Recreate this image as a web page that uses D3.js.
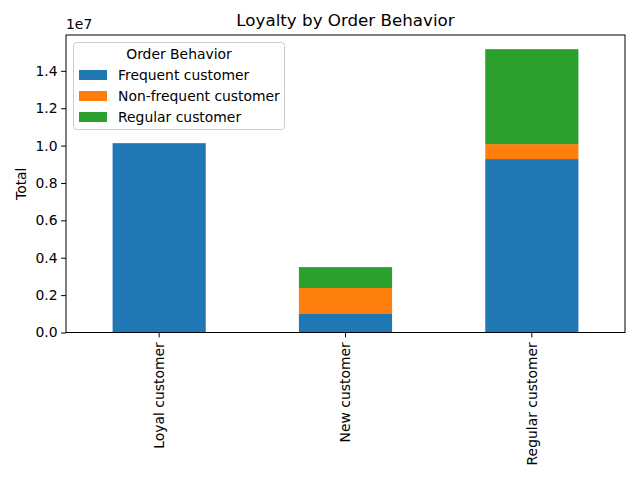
<!DOCTYPE html>
<html><head><meta charset="utf-8">
<script src="https://cdn.jsdelivr.net/npm/d3@7"></script>
<style>body{margin:0;background:#fff}text{font-family:"DejaVu Sans",sans-serif;fill:#000}</style>
</head><body>
<svg id="c" width="640" height="480"></svg>
<script>
const categories = ["Loyal customer", "New customer", "Regular customer"];
const seriesNames = ["Frequent customer", "Non-frequent customer", "Regular customer"];
const frequent = [10130000, 990000, 9280000];
const nonFrequent = [0, 1390000, 800000];
const regular = [0, 1120000, 5080000];
const yTicks = [0, 2e6, 4e6, 6e6, 8e6, 10e6, 12e6, 14e6];
const colors = ["#1f77b4", "#ff7f0e", "#2ca02c"];

const svg = d3.select("#c");
const m = {l: 66, r: 625, t: 35, b: 332.5};
const table = categories.map((c, i) => ({cat: c, "Frequent customer": frequent[i], "Non-frequent customer": nonFrequent[i], "Regular customer": regular[i]}));
const stack = d3.stack().keys(seriesNames)(table);
const maxV = d3.max(stack[stack.length - 1], d => d[1]);
const y = d3.scaleLinear().domain([0, maxV * 1.05]).range([m.b, m.t]);
const x = d3.scaleBand().domain(categories).range([m.l, m.r]).paddingInner(0.5).paddingOuter(0.25);

svg.append("g").selectAll("g").data(stack).join("g")
  .attr("fill", (d, i) => colors[i])
  .selectAll("rect").data(d => d).join("rect")
  .attr("x", d => x(d.data.cat))
  .attr("width", x.bandwidth())
  .attr("y", d => y(d[1]))
  .attr("height", d => y(d[0]) - y(d[1]));

// y axis
const ya = svg.append("g").attr("transform", `translate(${m.l},0)`)
  .call(d3.axisLeft(y).tickValues(yTicks).tickFormat(d => (d / 1e7).toFixed(1)).tickSizeOuter(0).tickSize(4.9).tickPadding(3.5));
ya.select(".domain").remove();
ya.selectAll("text").style("font-size", "13.9px").style("font-family", "DejaVu Sans");
ya.selectAll("line").attr("stroke", "#000").attr("stroke-width", 1);

// x axis
const xa = svg.append("g").attr("transform", `translate(0,${m.b})`)
  .call(d3.axisBottom(x).tickSize(4.9).tickSizeOuter(0));
xa.select(".domain").remove();
xa.selectAll("line").attr("stroke", "#000");
xa.selectAll("text").style("font-size", "13.9px").style("font-family", "DejaVu Sans")
  .attr("transform", "rotate(-90)").attr("text-anchor", "end")
  .attr("x", -9.8).attr("y", 0).attr("dy", "0.35em");

// frame
svg.append("rect").attr("x", m.l).attr("y", m.t).attr("width", m.r - m.l).attr("height", m.b - m.t)
  .attr("fill", "none").attr("stroke", "#000").attr("stroke-width", 1);

// offset text
svg.append("text").attr("x", m.l).attr("y", m.t - 6).style("font-size", "13.9px").text("1e7");
// title
svg.append("text").attr("x", (m.l + m.r) / 2).attr("y", m.t - 9).attr("text-anchor", "middle").style("font-size", "16.7px").text("Loyalty by Order Behavior");
// y label
svg.append("text").attr("transform", `translate(26,${(m.t + m.b) / 2}) rotate(-90)`).attr("text-anchor", "middle").style("font-size", "13.9px").text("Total");

// legend
const lg = svg.append("g");
lg.append("rect").attr("x", 73.5).attr("y", 42.5).attr("width", 211).attr("height", 87).attr("rx", 3)
  .attr("fill", "#fff").attr("fill-opacity", 0.8).attr("stroke", "#ccc");
lg.append("text").attr("x", 179).attr("y", 54).attr("dy", "0.35em").attr("text-anchor", "middle").style("font-size", "13.9px").text("Order Behavior");
seriesNames.forEach((s, i) => {
  const cy = 75 + i * 21;
  lg.append("rect").attr("x", 79).attr("y", cy - 5).attr("width", 28).attr("height", 10).attr("fill", colors[i]);
  lg.append("text").attr("x", 118).attr("y", cy).attr("dy", "0.35em").style("font-size", "13.9px").text(s);
});
</script>
</body></html>
